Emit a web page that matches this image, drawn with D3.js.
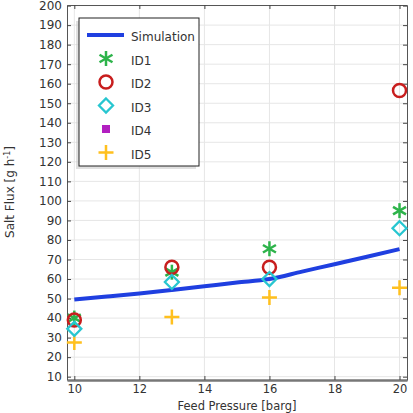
<!DOCTYPE html>
<html>
<head>
<meta charset="utf-8">
<script src="https://cdn.jsdelivr.net/npm/d3@7"></script>
<style>
  body { margin: 0; background: #fff; }
  text { font-family: "DejaVu Sans", sans-serif; fill: #333; }
</style>
</head>
<body>
<div id="chart"></div>
<script>
// data
var pressure = [10, 13, 16, 20];
var simX = [10, 11, 12, 13, 14, 15, 16, 17, 18, 19, 20];
var simY = [49.5, 51, 52.6, 54.4, 56.3, 58.2, 60, 63.8, 67.6, 71.4, 75.3];
var id1 = [40, 63.5, 75.5, 95];
var id2 = [39, 66, 66, 156.5];
var id3 = [34.5, 58.5, 60, 86];
var id4 = [];
var id5 = [27.5, 40.5, 50.5, 55.5];
var xTicks = [10, 12, 14, 16, 18, 20];
var yTicks = d3.range(10, 201, 10);

var svgWidth = 413, svgHeight = 413;
var margin = {top: 5, right: 6, bottom: 33, left: 67};
var width = svgWidth - margin.left - margin.right;
var height = svgHeight - margin.top - margin.bottom;

var svg = d3.select("#chart").append("svg")
  .attr("width", svgWidth)
  .attr("height", svgHeight);

var chartGroup = svg.append("g")
  .attr("transform", `translate(${margin.left}, ${margin.top})`);

var x = d3.scaleLinear().domain([9.775, 20.23]).range([0, width]);
var y = d3.scaleLinear().domain([8.3, 200.3]).range([height, 0]);

// grid
chartGroup.append("g").selectAll("line").data(xTicks).enter().append("line")
  .attr("x1", d => x(d)).attr("x2", d => x(d))
  .attr("y1", 0).attr("y2", height)
  .attr("stroke", "#e6e6e6");
chartGroup.append("g").selectAll("line").data(yTicks).enter().append("line")
  .attr("x1", 0).attr("x2", width)
  .attr("y1", d => y(d)).attr("y2", d => y(d))
  .attr("stroke", "#e6e6e6");

// axes, ticks pointing inward
var xAxis = d3.axisBottom(x).tickValues(xTicks).tickSize(-4).tickPadding(5).tickSizeOuter(0);
var yAxis = d3.axisLeft(y).tickValues(yTicks).tickSize(-4).tickPadding(5).tickSizeOuter(0);

var gx = chartGroup.append("g")
  .attr("transform", `translate(0, ${height})`)
  .call(xAxis);
var gy = chartGroup.append("g").call(yAxis);
var gxt = chartGroup.append("g")
  .call(d3.axisTop(x).tickValues(xTicks).tickSize(-4).tickFormat("").tickSizeOuter(0));
var gyr = chartGroup.append("g")
  .attr("transform", `translate(${width}, 0)`)
  .call(d3.axisRight(y).tickValues(yTicks).tickSize(-4).tickFormat("").tickSizeOuter(0));

[gx, gy, gxt, gyr].forEach(function(g) {
  g.selectAll("path").attr("stroke", "#555").attr("stroke-width", 1);
  g.selectAll("line").attr("stroke", "#444");
  g.selectAll("text").style("font-size", "12px").attr("fill", "#333");
});
gx.selectAll("text").style("font-size", "11.5px");
gx.select("path").attr("stroke", "#777").attr("stroke-width", 2.5);

// simulation line
var line = d3.line().x((d, i) => x(simX[i])).y(d => y(d)).curve(d3.curveMonotoneX);
chartGroup.append("path")
  .datum(simY)
  .attr("d", line)
  .attr("fill", "none")
  .attr("stroke", "#1f3fe0")
  .attr("stroke-width", 4);

// marker shapes
function asterisk(g, cx, cy, r) {
  [90, 30, 150].forEach(function(a) {
    var t = a * Math.PI / 180;
    g.append("line")
      .attr("x1", cx - r * Math.cos(t)).attr("y1", cy - r * Math.sin(t))
      .attr("x2", cx + r * Math.cos(t)).attr("y2", cy + r * Math.sin(t))
      .attr("stroke", "#2db34a").attr("stroke-width", 2.5);
  });
}
function circle(g, cx, cy) {
  g.append("circle").attr("cx", cx).attr("cy", cy).attr("r", 6.5)
    .attr("fill", "none").attr("stroke", "#c81e1e").attr("stroke-width", 2.5);
}
function diamond(g, cx, cy) {
  var r = 7;
  g.append("path")
    .attr("d", `M${cx},${cy - r}L${cx + r},${cy}L${cx},${cy + r}L${cx - r},${cy}Z`)
    .attr("fill", "none").attr("stroke", "#27c6d0").attr("stroke-width", 2.3);
}
function square(g, cx, cy) {
  g.append("rect").attr("x", cx - 4).attr("y", cy - 4).attr("width", 8).attr("height", 8)
    .attr("fill", "#b21fc0");
}
function plus(g, cx, cy) {
  var r = 7.5;
  g.append("path")
    .attr("d", `M${cx - r},${cy}H${cx + r}M${cx},${cy - r}V${cy + r}`)
    .attr("stroke", "#ffc01e").attr("stroke-width", 2.5).attr("fill", "none");
}

var marks = chartGroup.append("g");
id5.forEach((v, i) => plus(marks, x(pressure[i]), y(v)));
id4.forEach((v, i) => square(marks, x(pressure[i]), y(v)));
id1.forEach((v, i) => asterisk(marks, x(pressure[i]), y(v), 7.5));
id2.forEach((v, i) => circle(marks, x(pressure[i]), y(v)));
id3.forEach((v, i) => diamond(marks, x(pressure[i]), y(v)));

// legend
var lg = svg.append("g").attr("transform", "translate(79, 18)");
lg.append("rect").attr("x", -3).attr("y", 3).attr("width", 120).attr("height", 148)
  .attr("fill", "#ccc").attr("opacity", 0.6);
lg.append("rect").attr("x", 0).attr("y", 0).attr("width", 120).attr("height", 148)
  .attr("fill", "#fff").attr("stroke", "#222").attr("stroke-width", 1);
var names = ["Simulation", "ID1", "ID2", "ID3", "ID4", "ID5"];
names.forEach(function(n, i) {
  var cy = 19 + i * 23.5;
  lg.append("text").attr("x", 52).attr("y", cy + 4).style("font-size", "12px").text(n);
  var mx = 27, my = cy - 2;
  if (i === 0) {
    lg.append("line").attr("x1", 8).attr("x2", 45).attr("y1", cy - 2).attr("y2", cy - 2)
      .attr("stroke", "#1f3fe0").attr("stroke-width", 4);
  } else if (i === 1) asterisk(lg, mx, my, 7.5);
  else if (i === 2) circle(lg, mx, my);
  else if (i === 3) diamond(lg, mx, my);
  else if (i === 4) square(lg, mx, my);
  else plus(lg, mx, my);
});

// axis titles
svg.append("text")
  .attr("transform", "translate(14, 192) rotate(-90)")
  .attr("text-anchor", "middle")
  .style("font-size", "12px")
  .html('Salt Flux [g h<tspan dy="-4" font-size="8px">-1</tspan><tspan dy="4">]</tspan>');
svg.append("text")
  .attr("x", 237).attr("y", 410)
  .attr("text-anchor", "middle")
  .style("font-size", "11.5px")
  .text("Feed Pressure [barg]");
</script>
</body>
</html>
